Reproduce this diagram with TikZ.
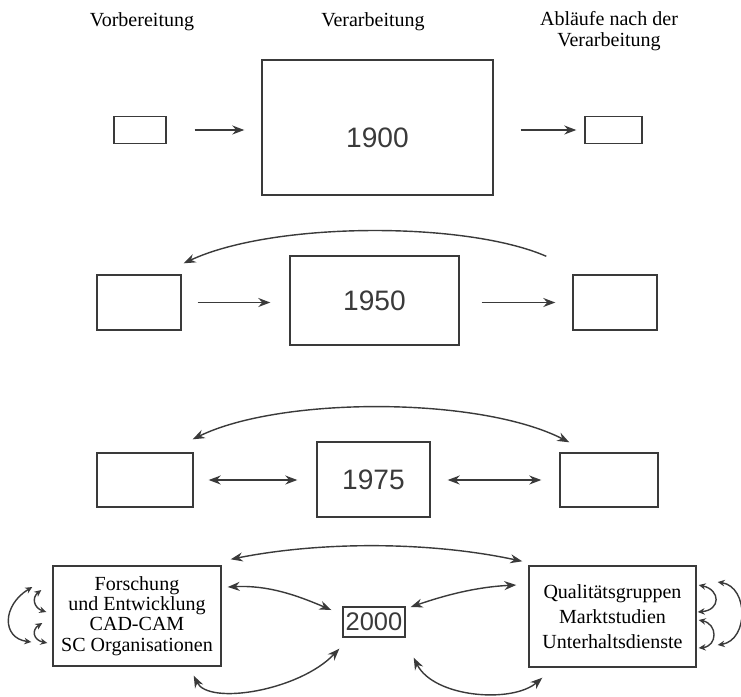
\documentclass[tikz,border=0pt]{standalone}
\usepackage{fontspec}
\setmainfont{Liberation Serif}
\newfontfamily\handfont{Liberation Sans}
\usetikzlibrary{arrows.meta,calc}
\definecolor{ink}{HTML}{3A3A3A}
\tikzset{
  box/.style 2 args={draw=ink, minimum width=#1*0.2mm, minimum height=#2*0.2mm, inner sep=0pt},
  year/.style={font=\handfont\fontsize{16}{16}\selectfont, text=ink},
  small/.style={>={Stealth[length=1.4mm,width=1.3mm]}},
}
\begin{document}
\begin{tikzpicture}[x=0.2mm, y=-0.2mm, line width=0.8pt, draw=ink,
    >={Stealth[length=2.4mm,width=1.8mm]},
    font=\fontsize{11.4}{11.6}\selectfont]
	\useasboundingbox (0,0) rectangle (741,696);
	% column heads
	\node (h1) at (142,22) {Vorbereitung};
	\node (h2) at (373,22) {Verarbeitung};
	\node[align=center] (h3) at (609,31) {Abläufe nach der\\Verarbeitung};
	% 1900
	\node[box={52}{27}] (a1) at (140,130) {};
	\node[box={231}{135}, label={[year,yshift=-2mm]center:1900}] (b1) at (377.5,127.5) {};
	\node[box={57}{27}] (c1) at (613.5,130) {};
	\draw[->, shorten <=5.6mm, shorten >=3.4mm] (a1.east) -- (a1.east -| b1.west);
	\draw[->, shorten <=5.4mm, shorten >=1.6mm] (b1.east |- c1.west) -- (c1.west);
	% 1950
	\node[box={84}{55}] (a2) at (139,302.5) {};
	\node[box={169}{89}, year] (b2) at (374.5,300.5) {1950};
	\node[box={84}{55}] (c2) at (615,302.5) {};
	\draw[->, shorten <=3.2mm, shorten >=3.8mm] (a2.east) -- (a2.east -| b2.west);
	\draw[->, shorten <=4.4mm, shorten >=3.4mm] (b2.east |- c2.west) -- (c2.west);
	\draw[->] ($(c2.north west)+(-26,-18)$) .. controls +(-80,-35) and +(90,-42) .. ($(a2.north east)+(2,-11)$);
	% 1975
	\node[box={96}{54}] (a3) at (145,480) {};
	\node[box={113}{75}, year] (b3) at (373.5,479.5) {1975};
	\node[box={98}{54}] (c3) at (609,480) {};
	\draw[<->, shorten <=3mm, shorten >=3.8mm] (a3.east) -- (a3.east -| b3.west);
	\draw[<->, shorten <=3.4mm, shorten >=3.6mm] (b3.east |- c3.west) -- (c3.west);
	\draw[<->] ($(a3.north east)+(-1,-13)$) .. controls +(88,-43) and +(-90,-46) .. ($(c3.north west)+(10,-10)$);
	% 2000
	\node[box={168}{100}, align=center] (a4) at (137,616) {Forschung\\und Entwicklung\\CAD-CAM\\SC Organisationen};
	\node[box={62}{30}, year, font=\handfont\fontsize{14.5}{14.5}\selectfont] (b4) at (374,622) {2000};
	\node[box={167}{101}, align=center, font=\fontsize{11.4}{14.2}\selectfont] (c4) at (612.5,616.5) {Qualitätsgruppen\\Marktstudien\\Unterhaltsdienste};
	\draw[<->] ($(a4.north east)+(9,-6)$) .. controls +(90,-18) and +(-93,-20) .. ($(c4.north west)+(-6,-4)$);
	\draw[<->] ($(a4.east)+(6,-29)$) .. controls +(40,-2) and +(-35,-15) .. ($(b4.west)+(-11,-12)$);
	\draw[<->] ($(c4.west)+(-12,-31.5)$) .. controls +(-40,2) and +(35,-12) .. ($(b4.east)+(5,-15)$);
	\draw[<->] ($(a4.south east)+(-28,9)$) .. controls +(15,30) and +(-40,42) .. ($(b4.south west)+(-3,11)$);
	\draw[<->] ($(b4.south east)+(8,20)$) .. controls +(20,40) and +(-30,26) .. ($(c4.south west)+(14,10)$);
	% loops at the sides
	\draw[<->, small] ($(a4.west)+(-11,-26)$) .. controls +(-10,8) and +(-12,-4) .. ($(a4.west)+(-6,-4)$);
	\draw[<->, small] ($(a4.west)+(-10,7)$) .. controls +(-11,7) and +(-14,-3) .. ($(a4.west)+(-5,27)$);
	\draw[<->, small] ($(a4.west)+(-20,-29)$) .. controls +(-30,18) and +(-30,-4) .. ($(a4.west)+(-21,26)$);
	\draw[<->, small] ($(c4.east)+(2,-31.5)$) .. controls +(22,5) and +(23,-2) .. ($(c4.east)+(1,-4.5)$);
	\draw[<->, small] ($(c4.east)+(2,3.5)$) .. controls +(19,4) and +(19,-2) .. ($(c4.east)+(2,31.5)$);
	\draw[<->, small] ($(c4.east)+(21,-34.5)$) .. controls +(31,5) and +(31,-5) .. ($(c4.east)+(21,28.5)$);
\end{tikzpicture}
\end{document}
